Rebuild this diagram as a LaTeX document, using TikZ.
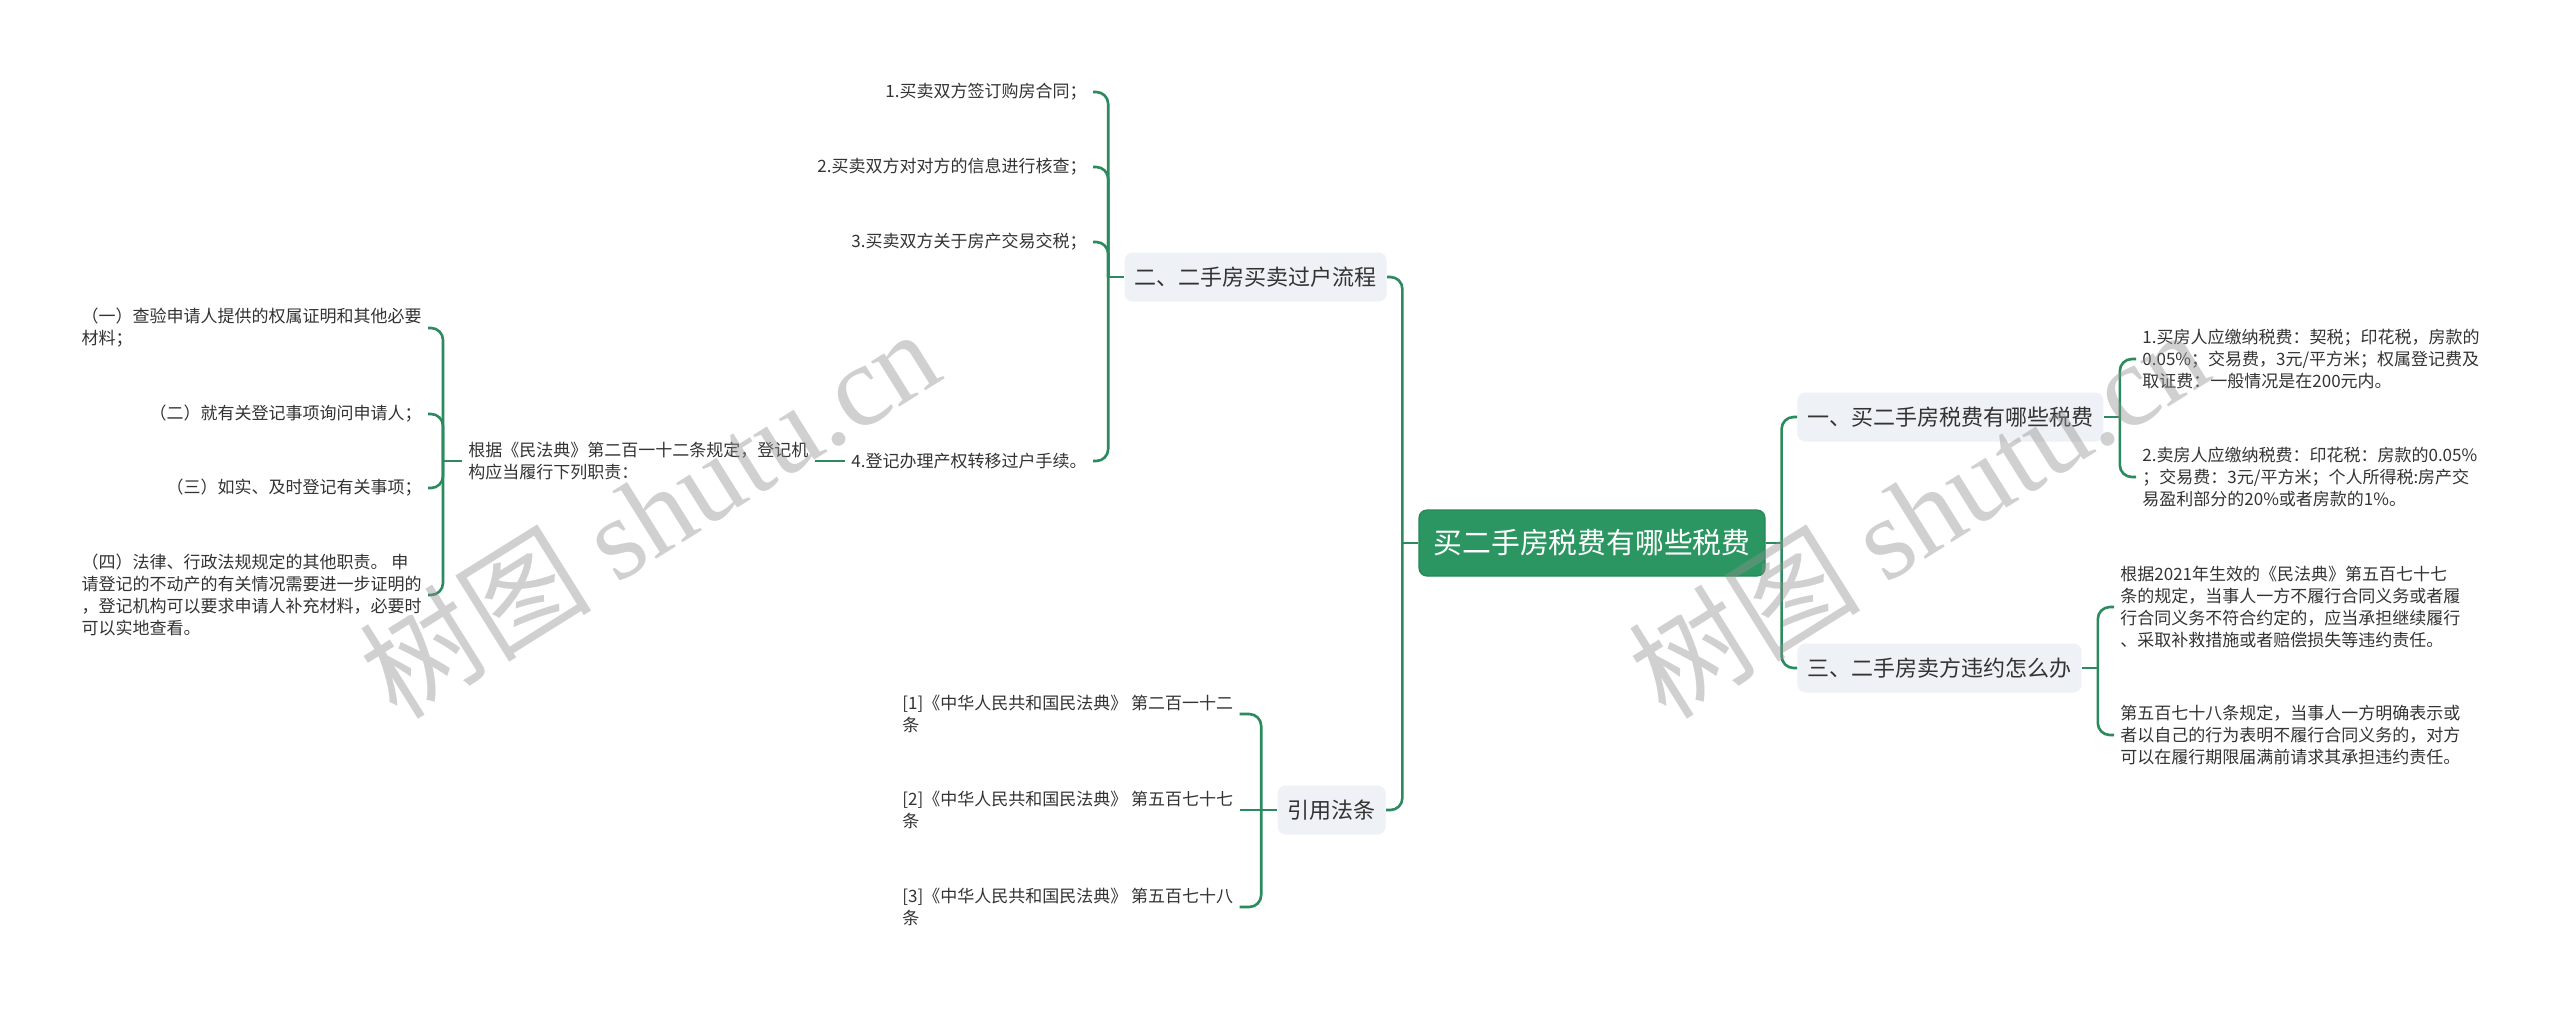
\documentclass[tikz,border=0pt]{standalone}
\usepackage{fontspec}
\setmainfont{Noto Sans CJK SC}
\newfontfamily\wmserif{Liberation Serif}
\usetikzlibrary{positioning}
\definecolor{lineg}{HTML}{2B8A5E}
\definecolor{rootg}{HTML}{2C9662}
\definecolor{rootb}{HTML}{268656}
\definecolor{topicbg}{HTML}{EEF1F5}
\definecolor{txt}{HTML}{333333}
\definecolor{wmgray}{HTML}{909090}

\begin{document}
\begin{tikzpicture}[x=0.5pt,y=-0.5pt,
    conn/.style={draw=lineg, line width=1.3pt, rounded corners=6pt},
    rootbox/.style={fill=rootg, draw=rootb, line width=0.6pt, rounded corners=4pt, text=white, font=\fontsize{14.4}{17}\selectfont, minimum height=33pt, inner xsep=7.3pt},
    topic/.style={fill=topicbg, rounded corners=4pt, text=txt, font=\fontsize{11}{13}\selectfont, minimum height=24.5pt, inner xsep=5pt},
    leaf/.style={text=txt, font=\fontsize{8.5}{11}\selectfont, align=left, inner xsep=3pt, inner ysep=2pt},
    wm/.style={text=wmgray, font=\fontsize{58}{58}\selectfont, text opacity=0.42}]
    \useasboundingbox (0,0) rectangle (2560,1009);
    \fill[white] (0,0) rectangle (2560,1009);

    \node[rootbox] (root) at (1592,543) {买二手房税费有哪些税费};
    \node[topic, anchor=west] (buy) at (1797,417) {一、买二手房税费有哪些税费};
    \node[topic, anchor=west] (breach) at (1797,668) {三、二手房卖方违约怎么办};
    \node[topic, anchor=east] (proc) at (1387,277) {二、二手房买卖过户流程};
    \node[topic, anchor=east] (cite) at (1386,810) {引用法条};

    \node[leaf, anchor=east] (p1) at (1093,92) {1.买卖双方签订购房合同；};
    \node[leaf, anchor=east] (p2) at (1093,167) {2.买卖双方对对方的信息进行核查；};
    \node[leaf, anchor=east] (p3) at (1093,242) {3.买卖双方关于房产交易交税；};
    \node[leaf, anchor=east] (p4) at (1093,461) {4.登记办理产权转移过户手续。};
    \node[leaf, anchor=west] (law) at (462,461) {根据《民法典》第二百一十二条规定，登记机\\构应当履行下列职责：};
    \node[leaf, anchor=east] (d1) at (428,328) {（一）查验申请人提供的权属证明和其他必要\\材料；};
    \node[leaf, anchor=east] (d2) at (428,414) {（二）就有关登记事项询问申请人；};
    \node[leaf, anchor=east] (d3) at (428,488) {（三）如实、及时登记有关事项；};
    \node[leaf, anchor=east] (d4) at (428,595) {（四）法律、行政法规规定的其他职责。 申\\请登记的不动产的有关情况需要进一步证明的\\，登记机构可以要求申请人补充材料，必要时\\可以实地查看。};

    \node[leaf, anchor=west] (c1) at (896,714) {[1]《中华人民共和国民法典》 第二百一十二\\条};
    \node[leaf, anchor=west] (c2) at (896,810) {[2]《中华人民共和国民法典》 第五百七十七\\条};
    \node[leaf, anchor=west] (c3) at (896,907) {[3]《中华人民共和国民法典》 第五百七十八\\条};

    \node[leaf, anchor=west] (t1) at (2136,359) {1.买房人应缴纳税费：契税；印花税，房款的\\0.05\%；交易费，3元/平方米；权属登记费及\\取证费：一般情况是在200元内。};
    \node[leaf, anchor=west] (t2) at (2136,477) {2.卖房人应缴纳税费：印花税：房款的0.05\%\\；交易费：3元/平方米；个人所得税:房产交\\易盈利部分的20\%或者房款的1\%。};
    \node[leaf, anchor=west] (v1) at (2114,607) {根据2021年生效的《民法典》第五百七十七\\条的规定，当事人一方不履行合同义务或者履\\行合同义务不符合约定的，应当承担继续履行\\、采取补救措施或者赔偿损失等违约责任。};
    \node[leaf, anchor=west] (v2) at (2114,735) {第五百七十八条规定，当事人一方明确表示或\\者以自己的行为表明不履行合同义务的，对方\\可以在履行期限届满前请求其承担违约责任。};

    \coordinate (rl) at ([xshift=-8pt]root.west);
    \coordinate (rr) at ([xshift=8pt]root.east);
    \coordinate (pj) at ([xshift=-8pt]proc.west);
    \coordinate (lj) at ([xshift=-9.5pt]law.west);
    \coordinate (cj) at ([xshift=-8pt]cite.west);
    \coordinate (bj) at ([xshift=8pt]buy.east);
    \coordinate (vj) at ([xshift=8pt]breach.east);

    \draw[conn] (root.west) -- (rl);
    \draw[conn] (rl) |- (proc.east);
    \draw[conn] (rl) |- (cite.east);
    \draw[conn] (root.east) -- (rr);
    \draw[conn] (rr) |- (buy.west);
    \draw[conn] (rr) |- (breach.west);

    \draw[conn] (proc.west) -- (pj);
    \foreach \n in {p1,p2,p3,p4}
        \draw[conn] (pj) |- (\n.east);
    \draw[conn] (p4.west) -- (law.east);
    \draw[conn] (law.west) -- (lj);
    \foreach \n in {d1,d2,d3,d4}
        \draw[conn] (lj) |- (\n.east);

    \draw[conn] (cite.west) -- (cj);
    \draw[conn] (cj) |- (c1.east);
    \draw[conn] (cj) -- (c2.east);
    \draw[conn] (cj) |- (c3.east);

    \draw[conn] (buy.east) -- (bj);
    \draw[conn] (bj) |- (t1.west);
    \draw[conn] (bj) |- (t2.west);
    \draw[conn] (breach.east) -- (vj);
    \draw[conn] (vj) |- (v1.west);
    \draw[conn] (vj) |- (v2.west);

    \node[wm, rotate=32] (wm1) at (649,512) {树图 {\wmserif shutu.cn}};
    \node[wm, rotate=32] (wm2) at (1918,512) {树图 {\wmserif shutu.cn}};
\end{tikzpicture}
\end{document}
